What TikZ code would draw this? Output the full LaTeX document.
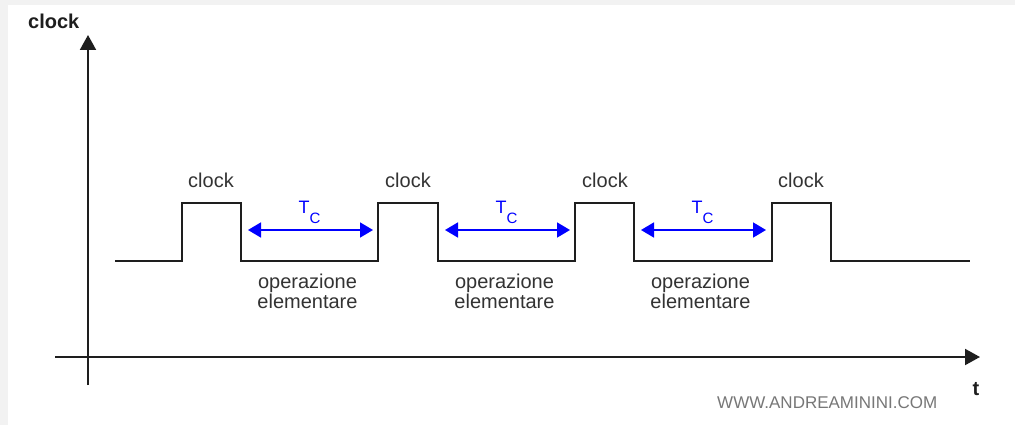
\documentclass[tikz,border=0pt]{standalone}
\usepackage{fontspec}
\setmainfont{Liberation Sans}
\usetikzlibrary{arrows.meta}
\definecolor{pagegray}{HTML}{F2F2F2}
\definecolor{ink}{HTML}{1E1E1E}
\definecolor{labelink}{HTML}{333333}
\definecolor{tcblue}{HTML}{0000FF}
\definecolor{markgray}{HTML}{777777}
\begin{document}
\begin{tikzpicture}[x=1pt,y=-1pt,
  axis/.style={draw=ink,line width=2pt,-{Triangle[length=15pt,width=16pt]}},
  wave/.style={draw=ink,line width=2pt,line join=miter},
  period/.style={draw=tcblue,line width=1.8pt,
    {Triangle[length=13pt,width=15pt]}-{Triangle[length=13pt,width=15pt]}},
  lbl/.style={font=\fontsize{20}{17}\selectfont,text=labelink,inner sep=0pt,anchor=base,align=center},
  axlbl/.style={font=\fontsize{20}{24}\selectfont\bfseries,text=ink,inner sep=0pt},
  tclbl/.style={font=\fontsize{18}{20}\selectfont,text=tcblue,inner sep=0pt,anchor=base},
  sitemark/.style={font=\fontsize{17}{20}\selectfont,text=markgray,inner sep=0pt,anchor=base west}
]
% page background with a thin grey frame on the top and left
\useasboundingbox (0,0) rectangle (1015,425);
\fill[pagegray] (0,0) rectangle (1015,425);
\fill[white] (8,5) rectangle (1015,425);

% axes
\coordinate (yfoot) at (88,385);
\coordinate (ytip) at (88,35);
\coordinate (xfoot) at (55,357);
\coordinate (xtip) at (980,357);
\draw[axis] (yfoot) -- (ytip);
\draw[axis] (xfoot) -- (xtip);
\node[axlbl,anchor=base west] (ylabel) at (28,29) {clock};
\node[axlbl,anchor=base] (xlabel) at (976,395) {t};

% clock waveform
\draw[wave] (115,261) -- (182,261) -- (182,203) -- (241,203) -- (241,261)
  -- (378,261) -- (378,203) -- (438,203) -- (438,261)
  -- (575,261) -- (575,203) -- (634,203) -- (634,261)
  -- (772,261) -- (772,203) -- (831,203) -- (831,261) -- (970,261);

% pulse labels
\foreach \c [count=\k] in {211,408,605,801}
  \node[lbl] (clk\k) at (\c,187) {clock};

% clock periods between pulses (the base anchor of the two-line label is its last line)
\foreach \a/\b [count=\k] in {248/373,445/570,641/766}{
  \coordinate (pa\k) at (\a,230);
  \coordinate (pb\k) at (\b,230);
  \draw[period] (pa\k) -- (pb\k);
  \node[tclbl] (tc\k) at ({(\a+\b)/2-1},213) {T\raisebox{-10pt}{\fontsize{15}{15}\selectfont C}};
  \node[lbl] (op\k) at ({(\a+\b)/2-3},308) {operazione\\elementare};
}

% site mark
\node[sitemark] (site) at (717,408) {WWW.ANDREAMININI.COM};
\end{tikzpicture}
\end{document}
